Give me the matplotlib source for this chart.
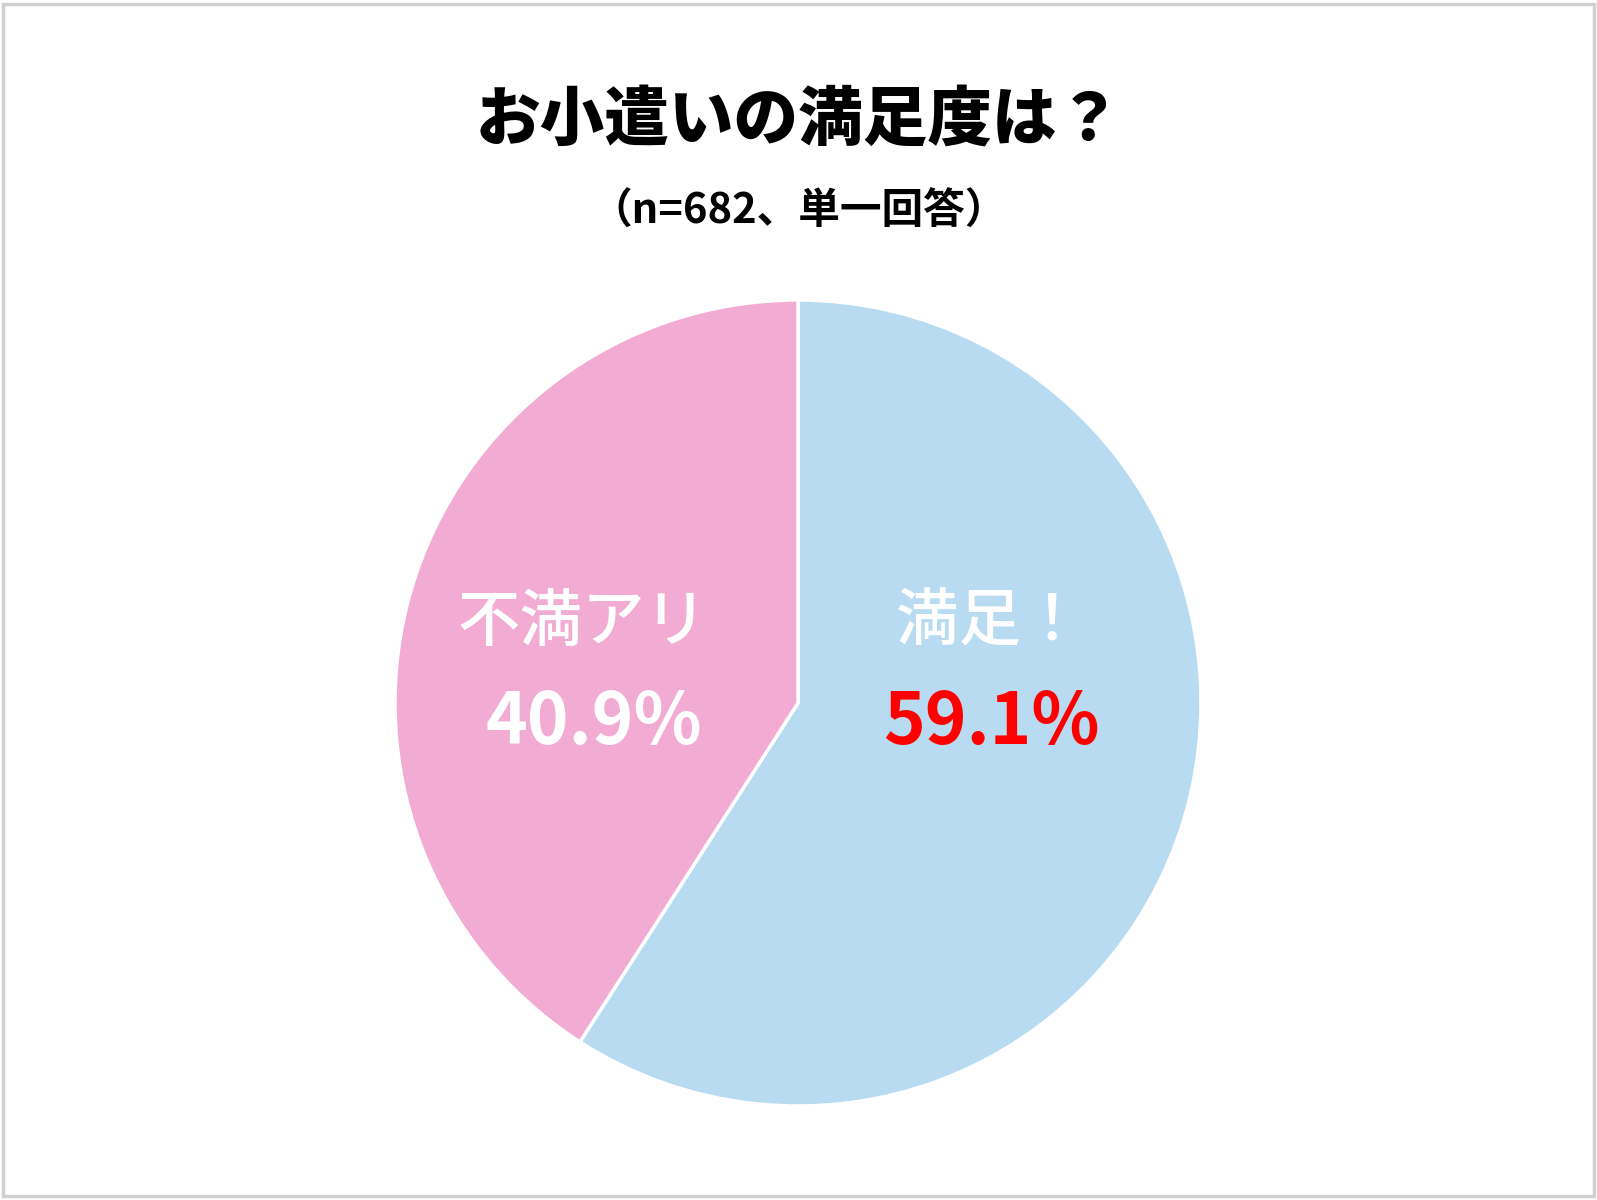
import matplotlib
matplotlib.use("Agg")
import matplotlib.pyplot as plt
from matplotlib.patches import Rectangle

plt.rcParams['font.family'] = ['Noto Sans CJK JP', 'DejaVu Sans']

labels = ['満足！', '不満アリ']
values = [59.1, 40.9]
colors = ['#B8DBF2', '#F2ABD3']
pct_colors = ['#FF0000', '#FFFFFF']
title = 'お小遣いの満足度は？'
subtitle = '（n=682、単一回答）'

W, H = 1597, 1200
fig = plt.figure(figsize=(W / 100, H / 100), dpi=100)
ax = fig.add_axes([0, 0, 1, 1])

cx, cy, r = 798, H - 703, 403
ax.pie(values, colors=colors, startangle=90, counterclock=False,
       center=(cx, cy), radius=r, frame=True,
       wedgeprops=dict(edgecolor='white', linewidth=2.5))
ax.set_xlim(0, W)
ax.set_ylim(0, H)
ax.set_aspect('equal')
ax.axis('off')

# labels inside slices
pos = [(990, 623, 991, 723), (583, 623, 594, 723)]
for (lx, ly, px, py), lab, v, pc in zip(pos, labels, values, pct_colors):
    ax.text(lx, H - ly, lab, ha='center', va='center', fontsize=45,
            color='white', fontweight='medium')
    ax.text(px, H - py, f'{v:.1f}%', ha='center', va='center', fontsize=51,
            color=pc, fontweight='bold')

ax.text(W / 2, H - 120, title, ha='center', va='center', fontsize=46.5,
        fontweight='heavy', color='black')
ax.text(W / 2, H - 212, subtitle, ha='center', va='center', fontsize=30,
        fontweight='bold', color='black')

fig.patches.append(Rectangle((0.002, 0.003), 0.996, 0.994, transform=fig.transFigure,
                             fill=False, edgecolor='#D0D0D0', linewidth=2.5))

fig.savefig('out.png', dpi=100, facecolor='white')
